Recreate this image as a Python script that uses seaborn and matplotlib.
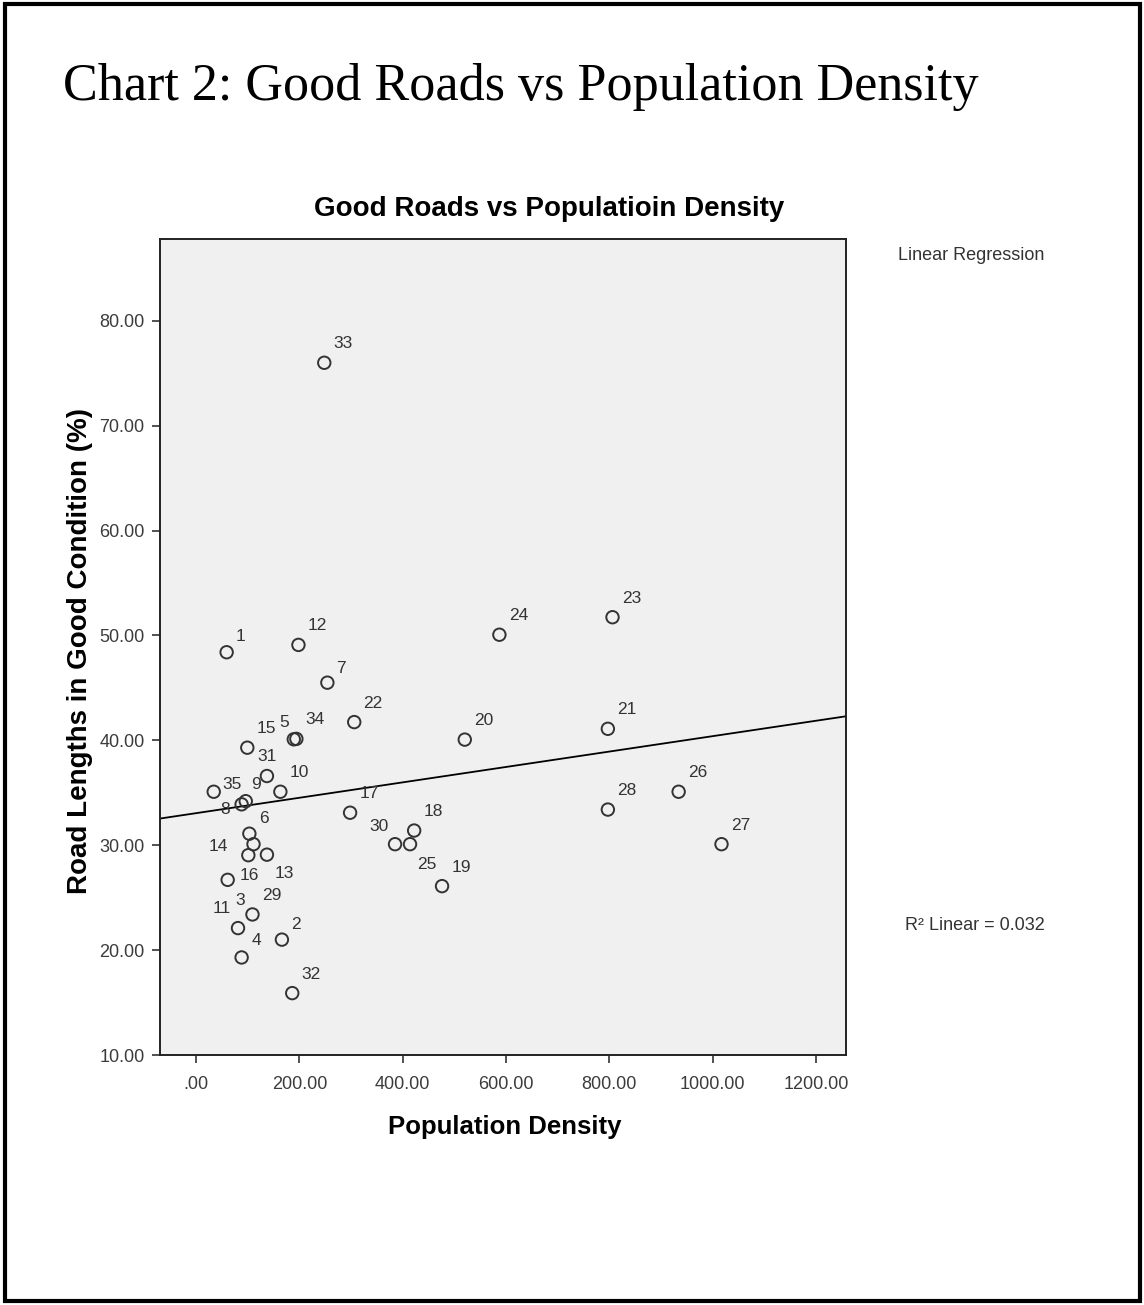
import numpy as np
import pandas as pd
import seaborn as sns
import matplotlib.pyplot as plt
from matplotlib.patches import Rectangle

# --- Data ---
case_ids = list(range(1, 36))
pop_density = [59, 166, 81, 88, 189, 103, 254, 88, 96, 163,
               61, 198, 137, 111, 99, 101, 298, 422, 476, 520,
               797, 306, 806, 587, 414, 934, 1017, 797, 109, 385,
               137, 186, 248, 194, 34]
good_roads = [48.4, 21.0, 22.1, 19.3, 40.1, 31.1, 45.5, 33.9, 34.2, 35.1,
              26.7, 49.1, 29.1, 30.1, 39.3, 29.05, 33.1, 31.4, 26.1, 40.07,
              41.1, 41.74, 51.74, 50.07, 30.1, 35.1, 30.1, 33.4, 23.4, 30.1,
              36.6, 15.9, 76.0, 40.14, 35.1]
x_ticks = [0, 200, 400, 600, 800, 1000, 1200]
y_ticks = [10, 20, 30, 40, 50, 60, 70, 80]

df = pd.DataFrame({"Case": case_ids, "Density": pop_density, "Roads": good_roads})

# label offsets in pixels (right, up); SPSS puts most labels upper-right
default_off = (19, 19)
label_offsets = {
    1: (14, 16), 5: (-10, 17), 7: (14, 14), 8: (-17, -5), 9: (10, 17),
    31: (0, 20), 35: (18, 7), 6: (15, 15), 14: (-35, -2), 13: (17, -19),
    16: (1, -20), 11: (-6, -29), 3: (2, 28), 2: (14, 15), 4: (15, 17),
    30: (-16, 18), 25: (17, -20),
}

sns.set_style("ticks")
plt.rcParams["font.family"] = ["Liberation Sans", "DejaVu Sans"]

W, H = 1144, 1305
fig = plt.figure(figsize=(W / 100, H / 100), dpi=100)
fig.patch.set_facecolor("white")

# outer page frame
fig.patches.append(Rectangle((5 / W, 4 / H), 1135 / W, 1297 / H, transform=fig.transFigure,
                             fill=False, edgecolor="black", linewidth=3))

fig.text(63 / W, 1 - 100 / H, "Chart 2: Good Roads vs Population Density",
         family=["Liberation Serif", "DejaVu Serif"], fontsize=37.5, color="black",
         va="baseline", ha="left")

ax = fig.add_axes([160 / W, 1 - 1055 / H, 686 / W, 816 / H])
ax.set_facecolor("#f0f0f0")
xlim = (-70, 1258)
ylim = (10, 87.8)
ax.set_xlim(xlim)
ax.set_ylim(ylim)

sns.scatterplot(data=df, x="Density", y="Roads", ax=ax, marker="o", s=80,
                facecolor="none", edgecolor="#333333", linewidth=1.4, zorder=3)
sns.regplot(data=df, x="Density", y="Roads", ax=ax, scatter=False, ci=None,
            truncate=False, color="black", line_kws={"linewidth": 1.3})
ax.set_xlim(xlim)
ax.set_ylim(ylim)

for cid, xv, yv in zip(case_ids, pop_density, good_roads):
    dx, dy = label_offsets.get(cid, default_off)
    ax.annotate(str(cid), (xv, yv), xytext=(dx * 0.72, dy * 0.72), textcoords="offset points",
                ha="center", va="center", fontsize=12.5, color="#333333", zorder=4)

ax.set_xticks(x_ticks)
ax.set_yticks(y_ticks)
ax.set_xticklabels([".00"] + [f"{v:.2f}" for v in x_ticks[1:]])
ax.set_yticklabels([f"{v:.2f}" for v in y_ticks])
ax.tick_params(axis="both", direction="out", length=6, width=1.2, color="#333333",
               labelsize=13, labelcolor="#3c3c3c", pad=5)
ax.tick_params(axis="x", pad=9)
for sp in ax.spines.values():
    sp.set_visible(True)
    sp.set_color("#222222")
    sp.set_linewidth(1.4)

ax.set_xlabel("Population Density", fontsize=18.5, fontweight="bold", color="black")
ax.set_ylabel("Road Lengths in Good Condition (%)", fontsize=20, fontweight="bold", color="black")
ax.xaxis.set_label_coords(0.503, -0.088)
ax.yaxis.set_label_coords(-0.117, 0.495)
ax.xaxis.label.set_va("center")
ax.yaxis.label.set_va("center")

fig.text(549 / W, 1 - 209 / H, "Good Roads vs Populatioin Density", fontsize=20,
         fontweight="bold", color="black", ha="center", va="center")

fig.text(898 / W, 1 - 255 / H, "Linear Regression", fontsize=13, color="#333333", va="center", ha="left")
fig.text(905 / W, 1 - 925 / H, "R² Linear = 0.032", fontsize=13, color="#333333", va="center", ha="left")

fig.savefig("out.png", dpi=100)
